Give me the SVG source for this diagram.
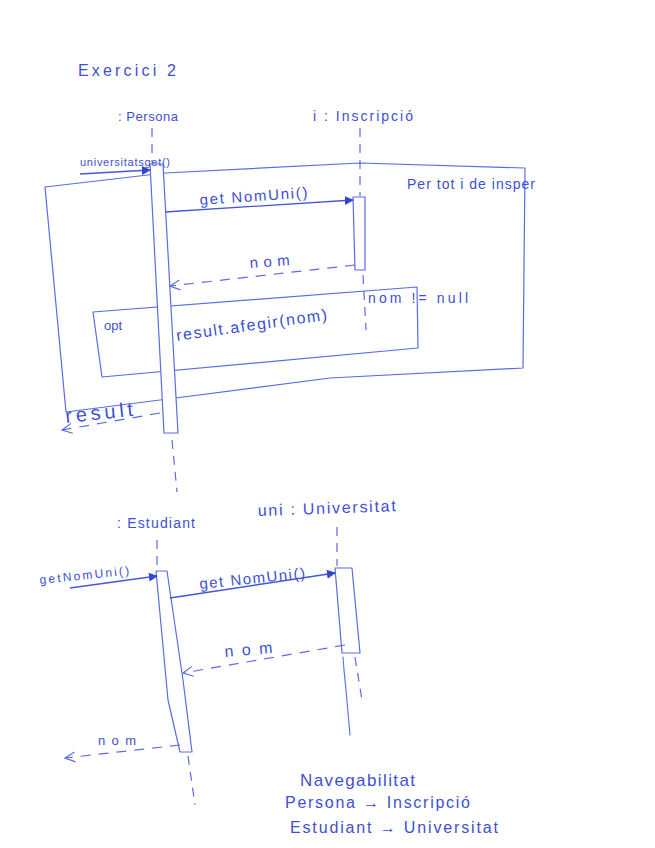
<svg xmlns="http://www.w3.org/2000/svg" width="655" height="848" viewBox="0 0 655 848">
<defs>
<style>
.t{font-family:"Liberation Sans","DejaVu Sans",sans-serif;fill:#3d50d2;}
.ln{fill:none;stroke:#5a6de0;stroke-width:1.2;stroke-linejoin:round;stroke-linecap:round;}
.bar{fill:#ffffff;stroke:#5a6de0;stroke-width:1.2;stroke-linejoin:round;}
.dash{fill:none;stroke:#5a6de0;stroke-width:1.2;stroke-dasharray:9 7;}
.msg{fill:none;stroke:#4457d6;stroke-width:1.3;}
.ret{fill:none;stroke:#5a6de0;stroke-width:1.2;stroke-dasharray:10 8;}
</style>
<marker id="filled" viewBox="0 0 10 10" refX="9" refY="5" markerWidth="9" markerHeight="9" orient="auto" markerUnits="userSpaceOnUse">
<path d="M0,0 L10,5 L0,10 Z" fill="#3346cc"/>
</marker>
<marker id="open" viewBox="0 0 12 12" refX="11" refY="6" markerWidth="12" markerHeight="12" orient="auto" markerUnits="userSpaceOnUse">
<path d="M1,1 L11,6 L1,11" fill="none" stroke="#5a6de0" stroke-width="1.2"/>
</marker>
</defs>
<rect width="655" height="848" fill="#ffffff"/>

<text class="t" x="78" y="76" font-size="16" textLength="98">Exercici 2</text>

<g id="frame-loop">
<path class="ln" d="M45,187 L165,173 L360,163 L525,168 L523,368 L330,378 L160,400 L66,412 Z"/>
<text class="t" x="407" y="189" font-size="14" textLength="128">Per tot i de insper</text>
</g>

<g id="frame-opt">
<path class="ln" d="M93,312 L417,287 L418,348 L102,377 Z"/>
<text class="t" x="104" y="330" font-size="13">opt</text>
<text class="t" x="368" y="303" font-size="14" textLength="100">nom != null</text>
<text class="t" x="177" y="341" font-size="16" textLength="152" transform="rotate(-8 177 341)">result.afegir(nom)</text>
</g>

<g id="persona">
<text class="t" x="118" y="121" font-size="13" textLength="60">: Persona</text>
<line class="dash" x1="152" y1="128" x2="152" y2="162"/>
<path class="bar" d="M150,164 L163,164 L178,433 L164,433 Z"/>
<line class="dash" x1="172" y1="440" x2="177" y2="492"/>
</g>

<g id="inscripcio">
<text class="t" x="313" y="121" font-size="14" textLength="100">i : Inscripció</text>
<line class="dash" x1="360" y1="128" x2="360" y2="196"/>
<path class="bar" d="M353,197 L365,197 L365,270 L355,270 Z"/>
<line class="dash" x1="363" y1="275" x2="366" y2="330"/>
</g>

<g id="estudiant">
<text class="t" x="117" y="528" font-size="14" textLength="78">: Estudiant</text>
<line class="dash" x1="157" y1="540" x2="157" y2="570"/>
<path class="bar" d="M156,571 L167,571 L183,680 L192,752 L180,752 L168,700 Z"/>
<line class="dash" x1="188" y1="756" x2="195" y2="805"/>
</g>

<g id="universitat">
<text class="t" x="258" y="516" font-size="16" textLength="138" transform="rotate(-2 258 516)">uni : Universitat</text>
<line class="dash" x1="337" y1="527" x2="337" y2="566"/>
<path class="bar" d="M335,568 L352,568 L360,653 L342,653 Z"/>
<path class="ln" d="M343,657 L344,670 L346,690 L348,712 L350,735" stroke-width="2" stroke-dasharray="1.5 1"/>
<line class="dash" x1="355" y1="657" x2="362" y2="700"/>
</g>

<g id="connectors">
<line class="msg" x1="80" y1="174" x2="150" y2="170" marker-end="url(#filled)"/>
<line class="msg" x1="165" y1="212" x2="353" y2="200" marker-end="url(#filled)"/>
<line class="ret" x1="355" y1="265" x2="170" y2="286" marker-end="url(#open)"/>
<line class="ret" x1="160" y1="413" x2="62" y2="430" marker-end="url(#open)"/>
<line class="msg" x1="70" y1="588" x2="157" y2="576" marker-end="url(#filled)"/>
<line class="msg" x1="170" y1="598" x2="335" y2="573" marker-end="url(#filled)"/>
<line class="ret" x1="345" y1="645" x2="183" y2="673" marker-end="url(#open)"/>
<line class="ret" x1="180" y1="745" x2="65" y2="758" marker-end="url(#open)"/>
</g>

<g id="labels">
<text class="t" x="80" y="166" font-size="11" textLength="90">universitatsget()</text>
<text class="t" x="200" y="205" font-size="15" textLength="108" transform="rotate(-4 200 205)">get NomUni()</text>
<text class="t" x="250" y="268" font-size="15" textLength="40" transform="rotate(-4 250 268)">nom</text>
<text class="t" x="66" y="423" font-size="20" textLength="68" transform="rotate(-6 66 423)">result</text>
<text class="t" x="40" y="584" font-size="12" textLength="90" transform="rotate(-6 40 584)">getNomUni()</text>
<text class="t" x="200" y="589" font-size="15" textLength="106" transform="rotate(-6 200 589)">get NomUni()</text>
<text class="t" x="225" y="657" font-size="16" textLength="48" transform="rotate(-5 225 657)">nom</text>
<text class="t" x="98" y="745" font-size="13" textLength="38">nom</text>
</g>

<g id="navegabilitat">
<text class="t" x="300" y="786" font-size="17" textLength="115">Navegabilitat</text>
<text class="t" x="285" y="808" font-size="16" textLength="185">Persona → Inscripció</text>
<text class="t" x="290" y="833" font-size="16" textLength="208">Estudiant → Universitat</text>
</g>
</svg>
